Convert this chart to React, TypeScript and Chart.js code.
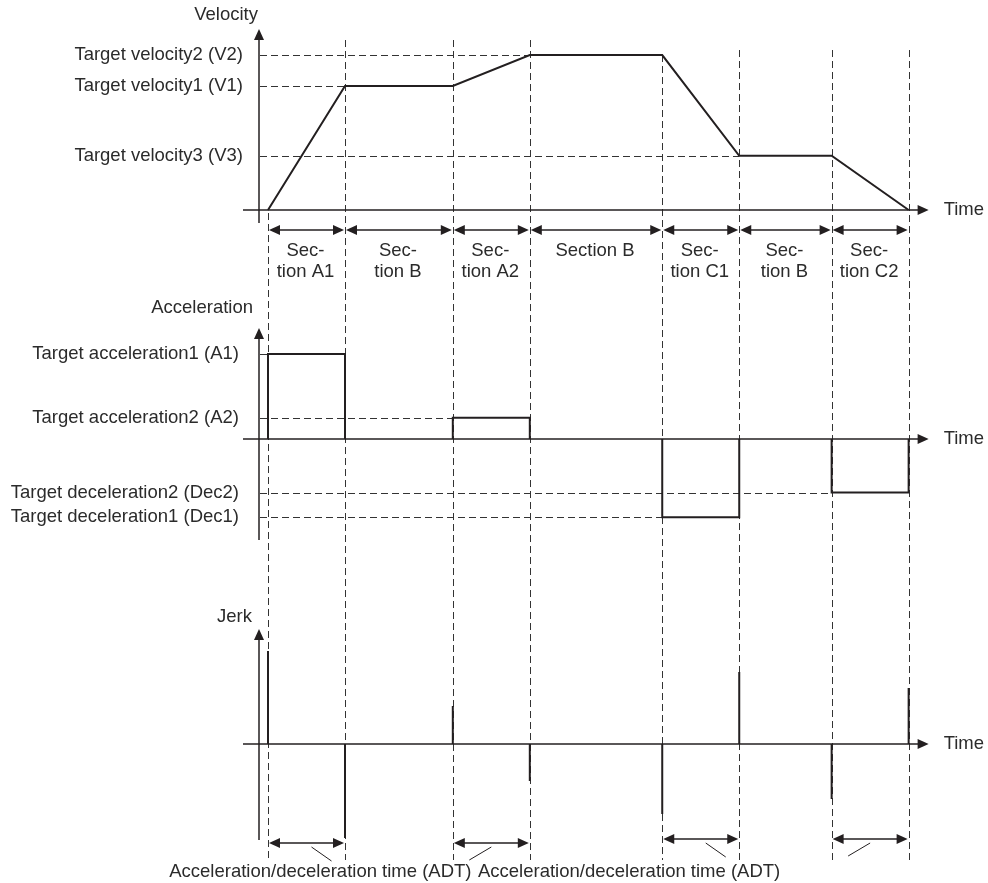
import React, { useEffect, useRef } from "react";
import { Chart, registerables } from "chart.js";

Chart.register(...registerables);

// ---- data ----
const sectionBounds = [0, 1, 2.4, 3.4, 5.12, 6.12, 7.32, 8.32];
const sectionTitles = [
  ["Sec-", "tion A1"],
  ["Sec-", "tion B"],
  ["Sec-", "tion A2"],
  ["Section B"],
  ["Sec-", "tion C1"],
  ["Sec-", "tion B"],
  ["Sec-", "tion C2"],
];
const velocityValues = [0, 80, 80, 100, 100, 35, 35, 0];
const velocityLevels = [100, 80, 35];
const velocityLabels = ["Target velocity2 (V2)", "Target velocity1 (V1)", "Target velocity3 (V3)"];
const accelValues = [100, 0, 25, 0, -92, 0, -63];
const accelLevels = [100, 25, -63, -92];
const accelLabels = [
  "Target acceleration1 (A1)",
  "Target acceleration2 (A2)",
  "Target deceleration2 (Dec2)",
  "Target deceleration1 (Dec1)",
];
const jerkValues = [93, -94, 38, -37, -70, 72, -55, 56];
const adtSections = [0, 2, 4, 6];
const adtLabel = "Acceleration/deceleration time (ADT)";
const adtLabelTimes = [0.68, 4.69];
const axisTitles = ["Velocity", "Acceleration", "Jerk"];
const timeLabel = "Time";

const FONT = '18.5px "Liberation Sans", Arial, sans-serif';
const TEXT = "#2b2b2b";
const INK = "#231f20";

function head(ctx: CanvasRenderingContext2D, x: number, y: number, dir: string, len = 10, half = 4.5) {
  ctx.beginPath();
  if (dir === "up") {
    ctx.moveTo(x, y);
    ctx.lineTo(x - half, y + len);
    ctx.lineTo(x + half, y + len);
  } else if (dir === "right") {
    ctx.moveTo(x, y);
    ctx.lineTo(x - len, y - half);
    ctx.lineTo(x - len, y + half);
  } else {
    ctx.moveTo(x, y);
    ctx.lineTo(x + len, y - half);
    ctx.lineTo(x + len, y + half);
  }
  ctx.closePath();
  ctx.fill();
}

function line(ctx: CanvasRenderingContext2D, x1: number, y1: number, x2: number, y2: number) {
  ctx.beginPath();
  ctx.moveTo(x1, y1);
  ctx.lineTo(x2, y2);
  ctx.stroke();
}

function dblArrow(ctx: CanvasRenderingContext2D, x1: number, x2: number, y: number) {
  ctx.lineWidth = 1.5;
  line(ctx, x1 + 4, y, x2 - 4, y);
  head(ctx, x1 + 1, y, "left", 11, 5);
  head(ctx, x2 - 1, y, "right", 11, 5);
}

const diagramPlugin = {
  id: "diagram",
  beforeDatasetsDraw(chart: any) {
    const { ctx } = chart;
    const x = chart.scales.x;
    const yV = chart.scales.yV;
    const yA = chart.scales.yA;
    const yJ = chart.scales.yJ;
    const axisX = x.getPixelForValue(0) - 9;
    const vBase = yV.getPixelForValue(0);
    const jBase = yJ.getPixelForValue(0);
    ctx.save();
    ctx.strokeStyle = "#333";
    ctx.lineWidth = 1;
    ctx.setLineDash([7, 4]);
    const guideTops = [-3, 170, 170, 170, 155, 160, 160, 160];
    sectionBounds.forEach((t, i) => {
      const px = Math.round(x.getPixelForValue(t)) + 0.5;
      line(ctx, px, vBase - guideTops[i], px, jBase + 116);
    });
    velocityLevels.forEach((lv) => {
      const idx = velocityValues.indexOf(lv);
      const py = Math.round(yV.getPixelForValue(lv)) + 0.5;
      line(ctx, axisX + 1, py, x.getPixelForValue(sectionBounds[idx]), py);
    });
    accelLevels.forEach((lv) => {
      const idx = accelValues.indexOf(lv);
      const py = Math.round(yA.getPixelForValue(lv)) + 0.5;
      line(ctx, axisX + 1, py, x.getPixelForValue(sectionBounds[idx]), py);
    });
    ctx.restore();
  },
  afterDatasetsDraw(chart: any) {
    const { ctx } = chart;
    const x = chart.scales.x;
    const panels = [chart.scales.yV, chart.scales.yA, chart.scales.yJ];
    const x0 = x.getPixelForValue(0);
    const axisX = x0 - 9;
    const tEnd = x.getPixelForValue(sectionBounds[sectionBounds.length - 1]);
    const axisTip = tEnd + 20;
    ctx.save();
    ctx.strokeStyle = INK;
    ctx.fillStyle = INK;
    ctx.setLineDash([]);
    // axes
    const vExt = [
      [13, 181],
      [101, 111],
      [96, 115],
    ];
    const titleOff = [14, 20, 12];
    const titleRight = [258, 253, 252];
    panels.forEach((s, i) => {
      const base = s.getPixelForValue(0);
      ctx.lineWidth = 1.5;
      line(ctx, axisX - 16, base, axisTip - 8, base);
      head(ctx, axisTip, base, "right", 11, 5);
      line(ctx, axisX, base + vExt[i][0], axisX, base - vExt[i][1] + 8);
      head(ctx, axisX, base - vExt[i][1], "up", 11, 5);
      ctx.fillStyle = TEXT;
      ctx.font = FONT;
      ctx.textBaseline = "middle";
      ctx.textAlign = "left";
      ctx.fillText(timeLabel, axisTip + 15, base);
      ctx.textAlign = "right";
      ctx.fillText(axisTitles[i], titleRight[i], base - vExt[i][1] - titleOff[i]);
      ctx.fillStyle = INK;
    });
    const [yV, yA, yJ] = panels;
    ctx.font = FONT;
    ctx.fillStyle = TEXT;
    ctx.textBaseline = "middle";
    ctx.textAlign = "right";
    velocityLevels.forEach((lv, i) => {
      ctx.fillText(velocityLabels[i], axisX - 16, yV.getPixelForValue(lv));
    });
    accelLevels.forEach((lv, i) => {
      ctx.fillText(accelLabels[i], axisX - 20, yA.getPixelForValue(lv));
    });
    // section arrows
    const vBase = yV.getPixelForValue(0);
    for (let i = 0; i < sectionTitles.length; i++) {
      const a = x.getPixelForValue(sectionBounds[i]);
      const b = x.getPixelForValue(sectionBounds[i + 1]);
      ctx.fillStyle = INK;
      dblArrow(ctx, a, b, vBase + 20);
      ctx.fillStyle = TEXT;
      ctx.textAlign = "center";
      const cx = (a + b) / 2 - 1;
      sectionTitles[i].forEach((s, k) => ctx.fillText(s, cx, vBase + 41 + k * 21));
    }
    // ADT arrows
    const jBase = yJ.getPixelForValue(0);
    adtSections.forEach((si, k) => {
      const a = x.getPixelForValue(sectionBounds[si]);
      const b = x.getPixelForValue(sectionBounds[si + 1]);
      const y = jBase + (k < 2 ? 99 : 95);
      ctx.fillStyle = INK;
      dblArrow(ctx, a, b, y);
      const c = (a + b) / 2;
      ctx.lineWidth = 1;
      if (k % 2 === 0) line(ctx, c + 5, y + 4, c + 25, y + 18);
      else line(ctx, c, y + 4, c - 22, y + 17);
    });
    ctx.fillStyle = TEXT;
    ctx.textAlign = "center";
    adtLabelTimes.forEach((t) => ctx.fillText(adtLabel, x.getPixelForValue(t), jBase + 128));
    ctx.restore();
  },
};

export default function App() {
  const ref = useRef<HTMLCanvasElement | null>(null);
  useEffect(() => {
    if (!ref.current) return;
    const velocityData = sectionBounds.map((t, i) => ({ x: t, y: velocityValues[i] }));
    const accelData: any[] = [];
    accelValues.forEach((v, i) => {
      if (v === 0) return;
      const a = sectionBounds[i];
      const b = sectionBounds[i + 1];
      accelData.push({ x: a, y: 0 }, { x: a, y: v }, { x: b, y: v }, { x: b, y: 0 }, { x: b, y: null });
    });
    const jerkData: any[] = [];
    sectionBounds.forEach((t, i) => {
      jerkData.push({ x: t, y: 0 }, { x: t, y: jerkValues[i] }, { x: t, y: null });
    });
    const common = {
      borderColor: INK,
      borderWidth: 2,
      pointRadius: 0,
      fill: false,
      tension: 0,
      spanGaps: false,
    };
    const chart = new Chart(ref.current, {
      type: "line",
      data: {
        datasets: [
          { ...common, label: "Velocity", data: velocityData, yAxisID: "yV" },
          { ...common, label: "Acceleration", data: accelData, yAxisID: "yA" },
          { ...common, label: "Jerk", data: jerkData, yAxisID: "yJ", borderCapStyle: "butt" },
        ],
      },
      options: {
        animation: false,
        responsive: true,
        maintainAspectRatio: false,
        events: [],
        layout: { padding: 0 },
        plugins: { legend: { display: false }, tooltip: { enabled: false } },
        scales: {
          x: { type: "linear", display: false, min: -268 / 77, max: (988 - 268) / 77 },
          yV: { type: "linear", display: false, position: "left", stack: "panels", stackWeight: 290, weight: 3, min: -51.6, max: 135.5 },
          yA: { type: "linear", display: false, position: "left", stack: "panels", stackWeight: 290, weight: 2, min: -165.9, max: 175.3 },
          yJ: { type: "linear", display: false, position: "left", stack: "panels", stackWeight: 303, weight: 1, min: -139, max: 164 },
        },
      } as any,
      plugins: [diagramPlugin],
    });
    return () => chart.destroy();
  }, []);
  return (
    <div style={{ position: "absolute", left: 0, top: 0, width: 988, height: 883, background: "#fff" }}>
      <canvas ref={ref} />
    </div>
  );
}
